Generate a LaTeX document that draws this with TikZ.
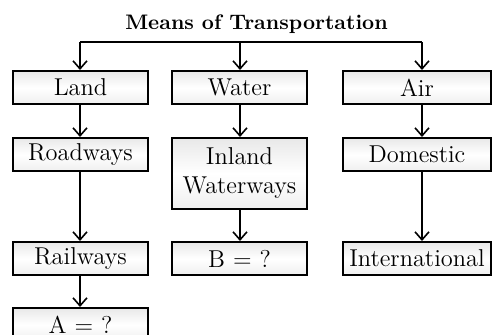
\documentclass[tikz,border=0pt]{standalone}
\usepackage{amsmath}
\usepackage{xcolor}
\usepackage{tikz}
\usetikzlibrary{arrows.meta}

\begin{document}
\begin{tikzpicture}[x=0.5pt,y=-0.5pt,
  box/.style={draw, line width=1pt, top color=gray!18, bottom color=gray!12, middle color=white,
    minimum height=16.5pt, inner sep=1pt, font=\fontsize{12.2}{14.5}\selectfont},
  link/.style={line width=0.8pt},
  arr/.style={line width=0.8pt, -{Straight Barb[length=4pt,width=7pt]}}]
% Frame
\useasboundingbox (0,0) rectangle (492,334);
% Title
\node[font=\fontsize{10.5}{12.5}\selectfont\bfseries] (title) at (256.5,24) {Means of Transportation};
% Columns
\coordinate (cl) at (80,42);
\coordinate (cw) at (240,42);
\coordinate (ca) at (422,42);
% First row
\node[box, minimum width=67.5pt] (land) at (80.5,87.5) {Land};
\node[box, minimum width=67.5pt] (water) at (239.5,87.5) {Water};
\node[box, minimum width=74pt] (air) at (417,87.5) {Air};
% Land
\node[box, minimum width=67.5pt] (road) at (80.5,154.5) {Roadways};
\node[box, minimum width=67.5pt] (rail) at (80.5,258.5) {Railways};
\node[box, minimum width=67.5pt] (a) at (80.5,324.5) {A = ?};
% Water
\node[box, minimum width=67.5pt, minimum height=35.5pt, align=center] (inland) at (239.5,173.5) {Inland\\Waterways};
\node[box, minimum width=67.5pt] (b) at (239.5,258.5) {B = ?};
% Air
\node[box, minimum width=74pt] (dom) at (417,154.5) {Domestic};
\node[box, minimum width=74pt] (intl) at (417,258.5) {International};
% Branches
\draw[link] (cl) -- (ca);
\draw[arr] (cl) -- (cl |- land.north);
\draw[arr] (cw) -- (cw |- water.north);
\draw[arr] (ca) -- (ca |- air.north);
% Links down
\draw[arr] (land.south -| cl) -- (road.north -| cl);
\draw[arr] (road.south -| cl) -- (rail.north -| cl);
\draw[arr] (rail.south -| cl) -- (a.north -| cl);
\draw[arr] (water.south -| cw) -- (inland.north -| cw);
\draw[arr] (inland.south -| cw) -- (b.north -| cw);
\draw[arr] (air.south -| ca) -- (dom.north -| ca);
\draw[arr] (dom.south -| ca) -- (intl.north -| ca);
\end{tikzpicture}
\end{document}
